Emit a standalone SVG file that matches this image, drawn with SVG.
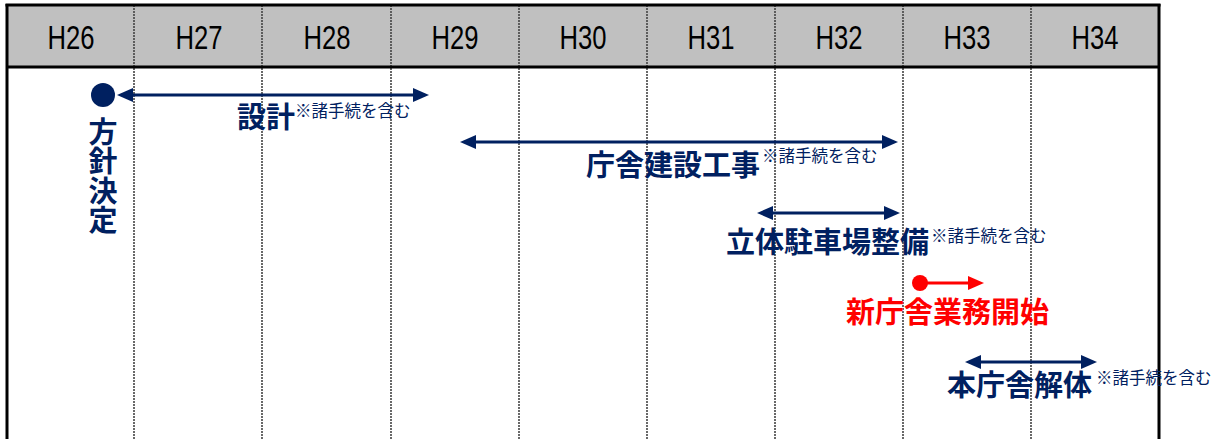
<svg xmlns="http://www.w3.org/2000/svg" width="1228" height="439" viewBox="0 0 1228 439">
<style>
.hdr{font-family:"Liberation Sans",Arial,sans-serif;font-size:34px;fill:#000;text-anchor:middle}
.big{font-family:"Noto Sans CJK JP",sans-serif;font-weight:bold;font-size:29px;fill:#002060}
.vert{writing-mode:vertical-rl;letter-spacing:0.5px}
.note{font-family:"Noto Sans CJK JP",sans-serif;font-size:16.5px;fill:#002060}
.red{fill:#FF0000}
.grid{stroke:#444;stroke-width:1.6;stroke-dasharray:2 1;fill:none}
.border{stroke:#000;stroke-width:3;fill:none}
.conn{stroke:#002060;stroke-width:3;fill:none}
.connr{stroke:#FF0000;stroke-width:3;fill:none}
</style>
<defs>
<marker id="ah" viewBox="0 0 16 14" markerUnits="userSpaceOnUse" markerWidth="16" markerHeight="14" refX="3" refY="7" orient="auto-start-reverse">
<path d="M0,0 L16,7 L0,14 z" fill="#002060"/>
</marker>
<marker id="ahr" viewBox="0 0 16 14" markerUnits="userSpaceOnUse" markerWidth="16" markerHeight="14" refX="3" refY="7" orient="auto">
<path d="M0,0 L16,7 L0,14 z" fill="#FF0000"/>
</marker>
</defs>
<rect x="0" y="0" width="1228" height="439" fill="#fff"/>
<g id="header">
<rect x="7" y="5" width="1152" height="62" fill="#C0C0C0"/>
<text class="hdr" x="71" y="49" textLength="47" lengthAdjust="spacingAndGlyphs">H26</text>
<text class="hdr" x="199" y="49" textLength="47" lengthAdjust="spacingAndGlyphs">H27</text>
<text class="hdr" x="327" y="49" textLength="47" lengthAdjust="spacingAndGlyphs">H28</text>
<text class="hdr" x="455" y="49" textLength="47" lengthAdjust="spacingAndGlyphs">H29</text>
<text class="hdr" x="583" y="49" textLength="47" lengthAdjust="spacingAndGlyphs">H30</text>
<text class="hdr" x="711" y="49" textLength="47" lengthAdjust="spacingAndGlyphs">H31</text>
<text class="hdr" x="839" y="49" textLength="47" lengthAdjust="spacingAndGlyphs">H32</text>
<text class="hdr" x="967" y="49" textLength="47" lengthAdjust="spacingAndGlyphs">H33</text>
<text class="hdr" x="1095" y="49" textLength="47" lengthAdjust="spacingAndGlyphs">H34</text>
</g>
<g id="grid">
<line class="grid" x1="134" y1="5" x2="134" y2="439"/>
<line class="grid" x1="262" y1="5" x2="262" y2="439"/>
<line class="grid" x1="391" y1="5" x2="391" y2="439"/>
<line class="grid" x1="519" y1="5" x2="519" y2="439"/>
<line class="grid" x1="647" y1="5" x2="647" y2="439"/>
<line class="grid" x1="775" y1="5" x2="775" y2="439"/>
<line class="grid" x1="903" y1="5" x2="903" y2="439"/>
<line class="grid" x1="1031" y1="5" x2="1031" y2="439"/>
<line class="border" x1="5.5" y1="5" x2="1160.5" y2="5"/>
<line class="border" x1="7" y1="67" x2="1159" y2="67"/>
<line class="border" x1="7" y1="4" x2="7" y2="439"/>
<line class="border" x1="1159" y1="4" x2="1159" y2="439"/>
</g>
<g id="connectors">
<line class="conn" x1="130" y1="95" x2="416" y2="95" marker-start="url(#ah)" marker-end="url(#ah)"/>
<line class="conn" x1="473" y1="142" x2="885" y2="142" marker-start="url(#ah)" marker-end="url(#ah)"/>
<line class="conn" x1="770" y1="213" x2="887" y2="213" marker-start="url(#ah)" marker-end="url(#ah)"/>
<line class="conn" x1="978" y1="362" x2="1084" y2="362" marker-start="url(#ah)" marker-end="url(#ah)"/>
<line class="connr" x1="920" y1="283" x2="971" y2="283" marker-end="url(#ahr)"/>
</g>
<g id="node-houshin">
<circle cx="103" cy="95" r="12" fill="#002060"/>
<text class="big vert" font-size="26" x="103" y="117">方針決定</text>
</g>
<g id="node-sekkei">
<text class="big" x="237" y="128" font-size="27">設計</text>
<text class="note" x="295" y="117">※諸手続を含む</text>
</g>
<g id="node-chousha">
<text class="big" x="586" y="176">庁舎建設工事</text>
<text class="note" x="762" y="162">※諸手続を含む</text>
</g>
<g id="node-parking">
<text class="big" x="726" y="253">立体駐車場整備</text>
<text class="note" x="931" y="242">※諸手続を含む</text>
</g>
<g id="node-start">
<circle cx="920" cy="283" r="8" fill="#FF0000"/>
<text class="big red" x="846" y="323">新庁舎業務開始</text>
</g>
<g id="node-demolish">
<text class="big" x="947" y="396">本庁舎解体</text>
<text class="note" x="1096" y="384">※諸手続を含む</text>
</g>
</svg>
